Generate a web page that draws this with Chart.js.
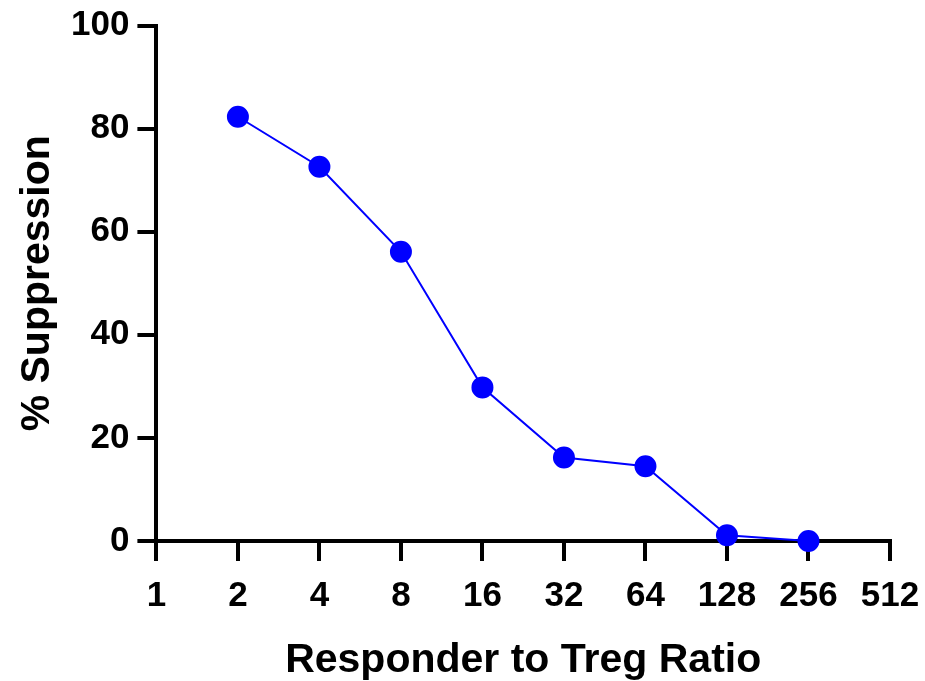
<!DOCTYPE html>
<html>
<head>
<meta charset="utf-8">
<script src="https://cdn.jsdelivr.net/npm/chart.js@4/dist/chart.umd.min.js"></script>
<style>
  html, body { margin: 0; padding: 0; background: #fff; }
  #wrap { width: 925px; height: 681px; }
</style>
</head>
<body>
<div id="wrap"><canvas id="suppChart"></canvas></div>
<script>
const ratios = [2, 4, 8, 16, 32, 64, 128, 256];
const suppression = [82.3, 72.6, 56.1, 29.8, 16.2, 14.5, 1.1, 0];
const xTicks = [1, 2, 4, 8, 16, 32, 64, 128, 256, 512];
const yTicks = [0, 20, 40, 60, 80, 100];

const tickFont = { family: 'Liberation Sans, Arial, sans-serif', size: 35, weight: 'bold', lineHeight: 1 };
const titleFont = { family: 'Liberation Sans, Arial, sans-serif', size: 41, weight: 'bold', lineHeight: 1 };

const ctx = document.getElementById('suppChart').getContext('2d');

let chart = new Chart(ctx, {
    type: 'line',
    data: {
        datasets: [{
            data: ratios.map((r, i) => ({ x: r, y: suppression[i] })),
            borderColor: '#0000ff',
            backgroundColor: '#0000ff',
            borderWidth: 2,
            pointRadius: 10,
            pointHoverRadius: 10,
            tension: 0,
            clip: false
        }]
    },
    options: {
        responsive: true,
        maintainAspectRatio: false,
        animation: false,
        layout: { padding: { top: 0, right: 0, left: 17, bottom: 0 } },
        plugins: { legend: { display: false }, tooltip: { enabled: false } },
        scales: {
            x: {
                type: 'logarithmic',
                min: 1,
                max: 512,
                afterBuildTicks: (axis) => { axis.ticks = xTicks.map(v => ({ value: v })); },
                // the "512" label only needs half its width past the axis end
                afterFit: (axis) => { axis.paddingRight = 35; },
                ticks: {
                    color: '#000',
                    font: tickFont,
                    padding: 18,
                    maxRotation: 0,
                    autoSkip: false,
                    callback: (v) => String(v)
                },
                grid: {
                    drawOnChartArea: false,
                    color: '#000',
                    lineWidth: 4,
                    tickLength: 20,
                    tickWidth: 4
                },
                border: { color: '#000', width: 4 },
                title: {
                    display: true,
                    text: 'Responder to Treg Ratio',
                    color: '#000',
                    font: titleFont,
                    padding: { top: 8, bottom: 0 }
                }
            },
            y: {
                min: 0,
                max: 100,
                afterBuildTicks: (axis) => { axis.ticks = yTicks.map(v => ({ value: v })); },
                ticks: {
                    color: '#000',
                    font: tickFont,
                    padding: 8
                },
                grid: {
                    drawOnChartArea: false,
                    color: '#000',
                    lineWidth: 4,
                    tickLength: 19,
                    tickWidth: 4
                },
                border: { color: '#000', width: 4 },
                title: {
                    display: true,
                    text: '% Suppression',
                    color: '#000',
                    font: titleFont,
                    padding: { top: 0, bottom: 5 }
                }
            }
        }
    }
});
</script>
</body>
</html>
